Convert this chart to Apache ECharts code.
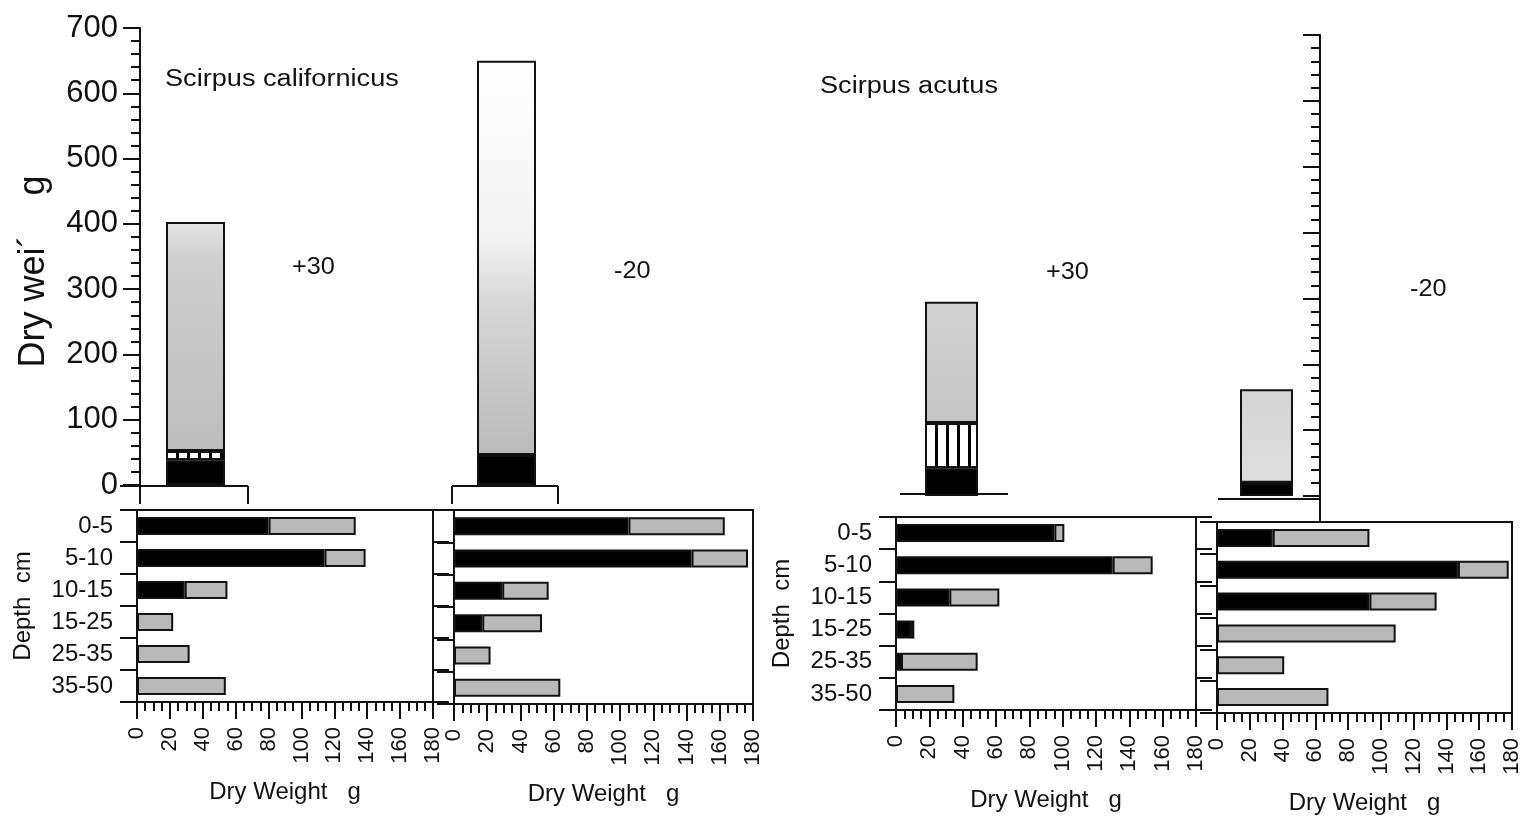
<!DOCTYPE html>
<html>
<head>
<meta charset="utf-8">
<script src="https://cdn.jsdelivr.net/npm/echarts@6/dist/echarts.min.js"></script>
<style>
html,body{margin:0;padding:0;background:#fff;}
#chart{width:1537px;height:820px;}
</style>
</head>
<body>
<div id="chart"></div>
<script>
// ---------- data ----------
var treatments = ['+30', '-20'];
// top panel (dry weight, g)
var calTopBlack   = [38, 46];
var calTopHatch   = [14, 0];
var calTopStipple = [351, 604];
var acuTopBlack   = [42, 20];
var acuTopHatch   = [69, 0];
var acuTopStipple = [184, 142];

var depthCats = ['0-5', '5-10', '10-15', '15-25', '25-35', '35-50'];
var weightTicks = [0, 20, 40, 60, 80, 100, 120, 140, 160, 180];
// bottom panels (dry weight by depth, g)
var calP30Black = [80, 114, 29, 0, 0, 0];
var calP30Stip  = [53, 25, 26, 22, 32, 54];
var calM20Black = [105, 143, 29, 17, 0, 0];
var calM20Stip  = [58, 34, 28, 36, 22, 64];
var acuP30Black = [95, 130, 32, 9, 3, 0];
var acuP30Stip  = [6, 24, 30, 2, 46, 35];
var acuM20Black = [34, 147, 93, 0, 0, 0];
var acuM20Stip  = [59, 31, 41, 109, 41, 68];

// ---------- styling ----------
var FONT = 'Liberation Sans, Arial, sans-serif';
var INK = '#111';
function grad(stops) {
  return {type: 'linear', x: 0, y: 0, x2: 0, y2: 1, colorStops: stops};
}
var topStippleFill = {
  cal: [
    grad([{offset: 0, color: '#e6e6e6'}, {offset: 0.15, color: '#cfcfcf'}, {offset: 1, color: '#bdbdbd'}]),
    grad([{offset: 0, color: '#ffffff'}, {offset: 0.45, color: '#f2f2f2'}, {offset: 0.62, color: '#d6d6d6'}, {offset: 1, color: '#bababa'}])
  ],
  acu: [
    grad([{offset: 0, color: '#d2d2d2'}, {offset: 1, color: '#c6c6c6'}]),
    grad([{offset: 0, color: '#d4d4d4'}, {offset: 1, color: '#dedede'}])
  ]
};
var hatchDecal = {symbol: 'rect', symbolSize: 1, color: '#000', dashArrayX: [2.5, 8], dashArrayY: [10, 0], rotation: 0};

var chart = echarts.init(document.getElementById('chart'), null, {renderer: 'canvas'});

var grids = [
  {left: 140, width: 1, top: 28, height: 457},      // 0 cal y-axis
  {left: 40, width: 622, top: 28, height: 457},     // 1 cal bars
  {left: 1320, width: 1, top: 35, height: 461},     // 2 acu y-axis
  {left: 794, width: 630, top: 35, height: 461},    // 3 acu bars
  {left: 137, width: 296, top: 510, height: 192},   // 4
  {left: 454, width: 299, top: 510, height: 194},   // 5
  {left: 896, width: 300, top: 517, height: 193},   // 6
  {left: 1217, width: 295, top: 522, height: 191}   // 7
];
grids.forEach(function (g, i) {
  if (i >= 4) { g.show = true; g.borderColor = INK; g.borderWidth = 2; g.backgroundColor = 'transparent'; }
});

var xAxes = [], yAxes = [], series = [];

// ---- top: value axes
function topValueAxis(gi, labels) {
  return {
    gridIndex: gi, type: 'value', min: 0, max: 700, interval: 100,
    position: 'left',
    axisLine: {show: true, lineStyle: {color: INK, width: 2}},
    axisTick: {show: true, inside: false, length: 17, lineStyle: {color: INK, width: 2}},
    minorTick: {show: true, splitNumber: 5, length: 9, lineStyle: {color: INK, width: 2}},
    splitLine: {show: false},
    axisLabel: {show: labels, fontFamily: FONT, fontSize: 31, color: INK, margin: 22},
    name: labels ? 'Dry wei\u00b4\u00a0\u00a0\u00a0\u00a0g\u00a0\u00a0\u00a0' : '',
    nameLocation: 'middle', nameRotate: 90, nameGap: 88,
    nameTextStyle: {fontFamily: FONT, fontSize: 36, color: INK}
  };
}
xAxes.push({gridIndex: 0, type: 'value', show: false});
yAxes.push(topValueAxis(0, true));
xAxes.push({gridIndex: 1, type: 'category', data: treatments, show: false});
yAxes.push({gridIndex: 1, type: 'value', min: 0, max: 700, show: false});
xAxes.push({gridIndex: 2, type: 'value', show: false});
yAxes.push(topValueAxis(2, false));
xAxes.push({gridIndex: 3, type: 'category', data: treatments, show: false});
yAxes.push({gridIndex: 3, type: 'value', min: 0, max: 700, show: false});

function topSeries(xi, stack, black, hatch, stip, fills, bw) {
  var border = {borderColor: INK, borderWidth: 2};
  series.push({type: 'bar', xAxisIndex: xi, yAxisIndex: xi, stack: stack, barWidth: bw, name: 'black',
    data: black, itemStyle: Object.assign({color: '#000'}, border), silent: true});
  series.push({type: 'bar', xAxisIndex: xi, yAxisIndex: xi, stack: stack, barWidth: bw, name: 'hatch',
    data: hatch, itemStyle: Object.assign({color: '#fff', decal: hatchDecal}, border), silent: true});
  series.push({type: 'bar', xAxisIndex: xi, yAxisIndex: xi, stack: stack, barWidth: bw, name: 'stipple',
    data: stip.map(function (v, i) { return {value: v, itemStyle: {color: fills[i]}}; }),
    itemStyle: border, silent: true});
}
topSeries(1, 'cal', calTopBlack, calTopHatch, calTopStipple, topStippleFill.cal, 59);
topSeries(3, 'acu', acuTopBlack, acuTopHatch, acuTopStipple, topStippleFill.acu, 53);

// ---- bottom panels
function panel(gi, showLabels, rightTicks, black, stip) {
  var xi = xAxes.length;
  xAxes.push({
    gridIndex: gi, type: 'value', min: 0, max: 180, interval: 20,
    axisLine: {show: true, lineStyle: {color: INK, width: 2}},
    axisTick: {show: true, length: 17, lineStyle: {color: INK, width: 2}},
    minorTick: {show: true, splitNumber: 4, length: 9, lineStyle: {color: INK, width: 2}},
    splitLine: {show: false},
    axisLabel: {rotate: 90, fontFamily: FONT, fontSize: 22, color: INK, margin: 25,
      formatter: function (v) { return weightTicks.indexOf(v) >= 0 ? String(v) : ''; }},
    name: 'Dry Weight   g', nameLocation: 'middle', nameGap: 78,
    nameTextStyle: {fontFamily: FONT, fontSize: 24, color: INK}
  });
  var yi = yAxes.length;
  yAxes.push({
    gridIndex: gi, type: 'category', data: depthCats, inverse: true, position: 'left',
    axisLine: {show: true, lineStyle: {color: INK, width: 2}},
    axisTick: {show: true, length: 17, lineStyle: {color: INK, width: 2}},
    axisLabel: {show: showLabels, fontFamily: FONT, fontSize: 24, color: INK, margin: 24},
    name: showLabels ? 'Depth  cm' : '', nameLocation: 'middle', nameRotate: 90, nameGap: 102,
    nameTextStyle: {fontFamily: FONT, fontSize: 24, color: INK}
  });
  if (rightTicks) {
    yAxes.push({
      gridIndex: gi, type: 'category', data: depthCats, inverse: true, position: 'right',
      axisLine: {show: true, lineStyle: {color: INK, width: 2}},
      axisTick: {show: true, length: 16, lineStyle: {color: INK, width: 2}},
      axisLabel: {show: false}
    });
  }
  var border = {borderColor: INK, borderWidth: 2};
  series.push({type: 'bar', xAxisIndex: xi, yAxisIndex: yi, stack: 'p' + gi, barWidth: 18,
    data: black, itemStyle: Object.assign({color: '#000'}, border), silent: true});
  series.push({type: 'bar', xAxisIndex: xi, yAxisIndex: yi, stack: 'p' + gi, barWidth: 18,
    data: stip, itemStyle: Object.assign({color: '#b9b9b9'}, border), silent: true});
}
panel(4, true, true, calP30Black, calP30Stip);
panel(5, false, false, calM20Black, calM20Stip);
panel(6, true, true, acuP30Black, acuP30Stip);
panel(7, false, false, acuM20Black, acuM20Stip);

// ---- decorations & annotations
function line(x1, y1, x2, y2) {
  return {type: 'line', shape: {x1: x1, y1: y1, x2: x2, y2: y2}, style: {stroke: INK, lineWidth: 2}, silent: true};
}
function txt(x, y, s, size, sx) {
  return {type: 'text', x: x, y: y, scaleX: sx || 1, style: {text: s, font: size + 'px ' + FONT, fill: INK, textVerticalAlign: 'middle'}, silent: true};
}
var graphic = [
  line(120, 486, 248, 486), line(248, 486, 248, 504), line(140, 485, 140, 504),
  line(452, 486, 558, 486), line(452, 486, 452, 504), line(558, 486, 558, 504),
  line(900, 494, 1008, 494),
  line(1218, 499, 1320, 499), line(1320, 496, 1320, 522),
  txt(165, 80, 'Scirpus californicus', 23, 1.18),
  txt(292, 268, '+30', 23, 1.1),
  txt(614, 272, '-20', 23, 1.1),
  txt(820, 87, 'Scirpus acutus', 23, 1.18),
  txt(1046, 273, '+30', 23, 1.1),
  txt(1410, 290, '-20', 23, 1.1)
];

chart.setOption({
  animation: false,
  backgroundColor: '#fff',
  grid: grids,
  xAxis: xAxes,
  yAxis: yAxes,
  series: series,
  graphic: graphic
});
</script>
</body>
</html>
